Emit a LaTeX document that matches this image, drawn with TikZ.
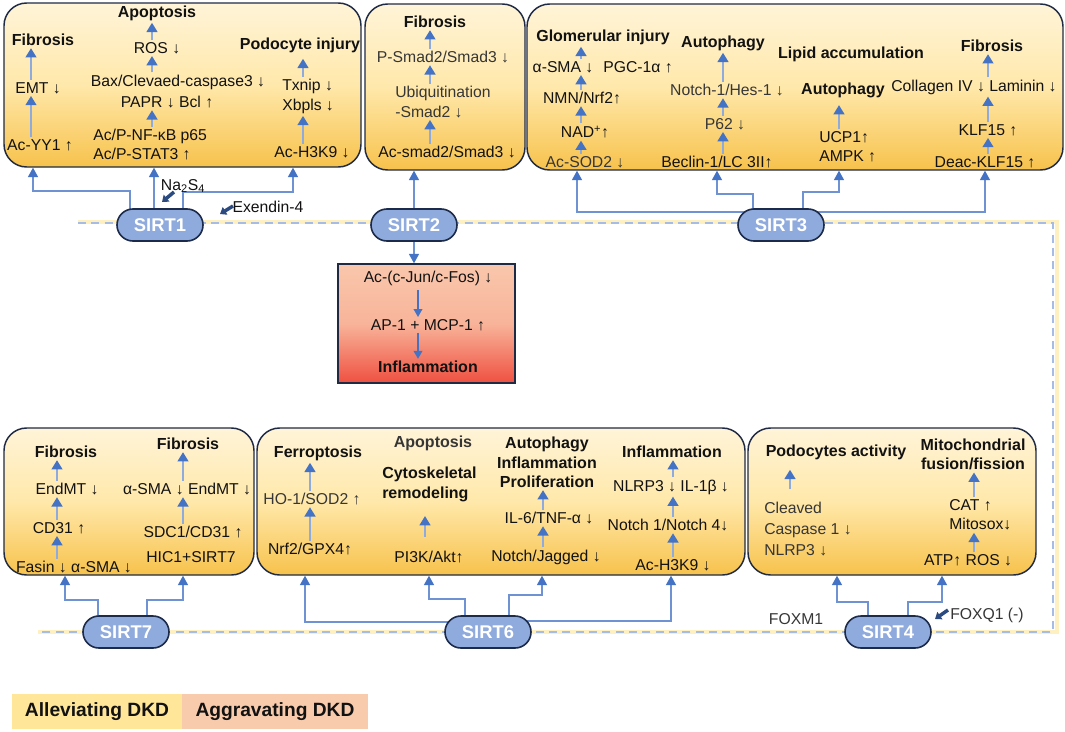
\documentclass[tikz,border=0pt]{standalone}
\usepackage{fontspec}
\setmainfont{Liberation Sans}
\usetikzlibrary{arrows.meta,calc,fit}
\definecolor{boxline}{HTML}{1F2A44}
\definecolor{by1}{HTML}{FFF4D8}
\definecolor{by2}{HTML}{FFE8AA}
\definecolor{by3}{HTML}{F7C24C}
\definecolor{rb1}{HTML}{F9C7AC}
\definecolor{rb2}{HTML}{F8B49A}
\definecolor{rb3}{HTML}{EF5040}
\definecolor{txt}{HTML}{121212}
\definecolor{txtg}{HTML}{363636}
\definecolor{shaft}{HTML}{8FAADC}
\definecolor{headb}{HTML}{4472C4}
\definecolor{connb}{HTML}{6F92D2}
\definecolor{pillfill}{HTML}{8FAADC}
\definecolor{pillline}{HTML}{1C2B4A}
\definecolor{navyarr}{HTML}{2B4A80}
\definecolor{bandy}{HTML}{FFF0C2}
\definecolor{dashb}{HTML}{A7BCE4}
\definecolor{legy}{HTML}{FFE699}
\definecolor{legp}{HTML}{F8CBAD}
\tikzset{
  tx/.style={font=\fontsize{11.8pt}{14.6pt}\selectfont, text=txt, inner sep=1.5pt, align=center},
  tg/.style={tx, text=txtg},
  hd/.style={font=\fontsize{12pt}{14.6pt}\selectfont\bfseries, text=txt, inner sep=1.5pt, align=center},
  ybox/.style={draw=boxline, line width=1.1pt, rounded corners=17pt, top color=by1, bottom color=by3, middle color=by2, inner sep=0pt},
  rbox/.style={draw=boxline, line width=1.1pt, top color=rb1, bottom color=rb3, middle color=rb2, inner sep=0pt},
  pill/.style={rectangle, rounded corners=12pt, minimum width=64.5pt, minimum height=24pt, fill=pillfill, draw=pillline, line width=1.2pt, text=white, font=\fontsize{13.8pt}{16pt}\selectfont\bfseries, inner sep=0pt},
  inarr/.style={draw=shaft, line width=1.8pt, -{Triangle[length=7pt,width=8pt,color=headb]}},
  rarr/.style={draw=headb, line width=1.2pt, -{Triangle[length=6pt,width=6.5pt,color=headb]}},
  oarr/.style={draw=connb, line width=0.9pt, -{Triangle[length=7pt,width=7.5pt,color=headb]}},
  fatarr/.style={draw=navyarr, line width=2.6pt, -{Triangle[length=4.5pt,width=6.5pt]}},
  legbox/.style={inner sep=0pt, minimum height=26.25pt, font=\fontsize{14.4pt}{16pt}\selectfont\bfseries, text=txt},
}
\newcommand\varr[4][]{\draw[inarr,#1] (perpendicular cs: horizontal line through={(#2.north)}, vertical line through={(#4,0)}) -- (perpendicular cs: horizontal line through={(#3.south)}, vertical line through={(#4,0)});}
\newcommand\darr[4][]{\draw[rarr,#1] (perpendicular cs: horizontal line through={(#2.south)}, vertical line through={(#4,0)}) -- (perpendicular cs: horizontal line through={(#3.north)}, vertical line through={(#4,0)});}
\newcommand\oconn[3]{\draw[oarr] #1 -| (perpendicular cs: horizontal line through={(#2.south)}, vertical line through={(#3,0)});}
\begin{document}
\begin{tikzpicture}[x=0.75pt,y=-0.75pt]
\useasboundingbox (0,0) rectangle (1065,732);
\fill[white] (0,0) rectangle (1065,732);

% ---------- boxes ----------
\node[ybox, fit={(4,3) (361,167)}] (B1) {};
\node[ybox, fit={(365,4) (525,170)}] (B2) {};
\node[ybox, fit={(527,4) (1063,170)}] (B3) {};
\node[ybox, fit={(4,428) (254,575)}] (B7) {};
\node[ybox, fit={(257,428) (745,575)}] (B6) {};
\node[ybox, fit={(748,428) (1036,575)}] (B4) {};
\node[rbox, fit={(338,264) (515,383)}] (R) {};

% ---------- dashed frame ----------
\draw[bandy, line width=3pt] (78,222) -- (1057,222) -- (1057,632) -- (38,632);
\draw[dashb, line width=1.1pt, dash pattern=on 6pt off 4pt] (78,223) -- (1053,223) -- (1053,632) -- (38,632);

% ---------- SIRT1 box ----------
\node[hd] (apo1) at (157,13) {Apoptosis};
\node[hd] (fib1) at (43,40) {Fibrosis};
\node[hd] (pod1) at (300,45) {Podocyte injury};
\node[tx] (ros1) at (157,48) {ROS ↓};
\node[tx] (bax1) at (178,82) {Bax/Clevaed-caspase3 ↓};
\node[tx] (papr1) at (167,102) {PAPR ↓ Bcl ↑};
\node[tx, align=left, anchor=west] (nfkb1) at (91,144.5) {Ac/P-NF-κB p65\\Ac/P-STAT3 ↑};
\node[tx] (emt1) at (38,88) {EMT ↓};
\node[tx] (yy1) at (40,145) {Ac-YY1 ↑};
\node[tx, align=left, anchor=west] (txn1) at (280,96.5) {Txnip ↓\\Xbpls ↓};
\node[tx] (h3k1) at (312,152) {Ac-H3K9 ↓};
\varr{ros1}{apo1}{152}
\varr{bax1}{ros1}{152}
\varr{nfkb1}{papr1}{152}
\varr{emt1}{fib1}{31}
\varr{yy1}{emt1}{31}
\varr[shorten >=3pt]{txn1}{pod1}{303}
\varr{h3k1}{txn1}{303}

% ---------- SIRT2 box ----------
\node[hd] (fib2) at (435,22) {Fibrosis};
\node[tg] (psm2) at (443,57) {P-Smad2/Smad3 ↓};
\node[tg, align=left, anchor=west] (ubq2) at (393,102) {Ubiquitination\\-Smad2 ↓};
\node[tx] (acs2) at (447,152) {Ac-smad2/Smad3 ↓};
\varr{psm2}{fib2}{430}
\varr{ubq2}{psm2}{430}
\varr{acs2}{ubq2}{430}

% ---------- SIRT3 box ----------
\node[hd] (glo3) at (603,37) {Glomerular injury};
\node[tx] (asma3) at (563,67) {α-SMA ↓};
\node[tx] (pgc3) at (638,67) {PGC-1α ↑};
\node[tx] (nmn3) at (582,98) {NMN/Nrf2↑};
\node[tx] (nad3) at (585,132) {NAD\textsuperscript{+}↑};
\node[tg] (sod3) at (585,162) {Ac-SOD2 ↓};
\varr{asma3}{glo3}{581}
\varr{nmn3}{asma3}{581}
\varr{nad3}{nmn3}{581}
\varr{sod3}{nad3}{581}
\node[hd] (aut3) at (723,43) {Autophagy};
\node[tg] (notch3) at (727,90) {Notch-1/Hes-1 ↓};
\node[tg] (p62) at (725,124) {P62 ↓};
\node[tx] (bec3) at (717,162) {Beclin-1/LC 3II↑};
\varr{notch3}{aut3}{723}
\varr{p62}{notch3}{723}
\varr{bec3}{p62}{723}
\node[hd] (lip3) at (851,54) {Lipid accumulation};
\node[hd] (aut3b) at (843,90) {Autophagy};
\node[tx, align=left, anchor=west] (ucp3) at (817,147) {UCP1↑\\AMPK ↑};
\varr[shorten >=4pt]{ucp3}{aut3b}{839}
\node[hd] (fib3) at (992,46) {Fibrosis};
\node[tx] (col3) at (974,87) {Collagen IV ↓ Laminin ↓};
\node[tx] (klf3) at (988,130) {KLF15 ↑};
\node[tx] (deac3) at (985,162) {Deac-KLF15 ↑};
\varr{col3}{fib3}{988}
\varr{klf3}{col3}{988}
\varr{deac3}{klf3}{988}

% ---------- red box ----------
\node[tx] (acj) at (428,278) {Ac-(c-Jun/c-Fos) ↓};
\node[tx] (ap1) at (428,325) {AP-1 + MCP-1 ↑};
\node[hd] (infr) at (428,367) {Inflammation};
\darr[shorten <=2pt]{acj}{ap1}{418}
\darr{ap1}{infr}{418}

% ---------- SIRT7 box ----------
\node[hd] (fib7a) at (66,452) {Fibrosis};
\node[tx] (endmt7) at (67,489) {EndMT ↓};
\node[tx] (cd31) at (59,528) {CD31 ↑};
\node[tx] (fasin) at (74,567) {Fasin ↓ α-SMA ↓};
\varr{endmt7}{fib7a}{57}
\varr{cd31}{endmt7}{57}
\varr{fasin}{cd31}{57}
\node[hd] (fib7b) at (188,444) {Fibrosis};
\node[tx] (asma7) at (187,489) {α-SMA ↓ EndMT ↓};
\node[tx] (sdc1) at (193,532) {SDC1/CD31 ↑};
\node[tx] (hic1) at (191,557) {HIC1+SIRT7};
\varr{asma7}{fib7b}{183}
\varr{sdc1}{asma7}{183}

% ---------- SIRT6 box ----------
\node[hd] (fer6) at (318,453) {Ferroptosis};
\node[tg] (ho6) at (312,499) {HO-1/SOD2 ↑};
\node[tx] (nrf6) at (310,549) {Nrf2/GPX4↑};
\varr{ho6}{fer6}{310}
\varr{nrf6}{ho6}{310}
\node[hd, text=txtg] (apo6) at (433,443) {Apoptosis};
\node[hd, align=left, anchor=west] (cyto6) at (380,484.5) {Cytoskeletal\\remodeling};
\node[tx] (pi3k) at (429,557) {PI3K/Akt↑};
\varr[shorten <=9pt, shorten >=9pt]{pi3k}{cyto6}{425}
\node[hd] (aut6) at (547,462.5) {Autophagy\\Inflammation\\Proliferation};
\node[tx] (il6) at (549,518) {IL-6/TNF-α ↓};
\node[tx] (notchj) at (546,557) {Notch/Jagged ↓};
\varr{il6}{aut6}{543}
\varr{notchj}{il6}{543}
\node[hd] (inf6) at (672,452) {Inflammation};
\node[tx] (nlrp6) at (671,487) {NLRP3 ↓ IL-1β ↓};
\node[tx] (notch6) at (668,525) {Notch 1/Notch 4↓};
\node[tx] (h3k6) at (673,565) {Ac-H3K9 ↓};
\varr{nlrp6}{inf6}{673}
\varr{notch6}{nlrp6}{673}
\varr{h3k6}{notch6}{673}

% ---------- SIRT4 box ----------
\node[hd] (pod4) at (836,452) {Podocytes activity};
\node[tg, align=left, anchor=west, font=\fontsize{11.8pt}{15.5pt}\selectfont] (clv4) at (762,529) {Cleaved\\Caspase 1 ↓\\NLRP3 ↓};
\varr[shorten <=8pt, shorten >=6pt]{clv4}{pod4}{790}
\node[hd] (mit4) at (973,454.5) {Mitochondrial\\fusion/fission};
\node[tx, align=left, anchor=west] (cat4) at (947,515) {CAT ↑\\Mitosox↓};
\node[tx] (atp4) at (968,560) {ATP↑ ROS ↓};
\varr{cat4}{mit4}{974}
\varr{atp4}{cat4}{974}

% ---------- pill positions ----------
\coordinate (p1) at (160,225);
\coordinate (p2) at (414,225);
\coordinate (p3) at (781,225);
\coordinate (p7) at (126,632);
\coordinate (p6) at (488,632);
\coordinate (p4) at (888,632);

% ---------- connectors ----------
\oconn{($(p1)+(-30,0)$) -- ++(0,-34)}{B1}{33}
\oconn{($(p1)+(-6,0)$)}{B1}{154}
\oconn{($(p1)+(23,0)$) -- ++(0,-33)}{B1}{293}
\oconn{(p2)}{B2}{414}
\draw[oarr] (p2) -- (R.north -| p2);
\oconn{($(p3)+(-20,-13)$)}{B3}{577}
\oconn{($(p3)+(-28,0)$) -- ++(0,-31)}{B3}{717}
\oconn{($(p3)+(22,0)$) -- ++(0,-33)}{B3}{839}
\oconn{($(p3)+(20,-13)$)}{B3}{985}
\oconn{($(p7)+(-28,0)$) -- ++(0,-32)}{B7}{65}
\oconn{($(p7)+(21,0)$) -- ++(0,-32)}{B7}{183}
\oconn{($(p6)+(-10,-10)$)}{B6}{305}
\oconn{($(p6)+(-23,0)$) -- ++(0,-33)}{B6}{429}
\oconn{($(p6)+(21,0)$) -- ++(0,-37)}{B6}{542}
\oconn{($(p6)+(10,-11)$)}{B6}{671}
\oconn{($(p4)+(-20,0)$) -- ++(0,-30)}{B4}{837}
\oconn{($(p4)+(20,0)$) -- ++(0,-30)}{B4}{942}

% ---------- pills ----------
\node[pill] (S1) at (p1) {SIRT1};
\node[pill] (S2) at (p2) {SIRT2};
\node[pill] (S3) at (p3) {SIRT3};
\node[pill] (S7) at (p7) {SIRT7};
\node[pill] (S6) at (p6) {SIRT6};
\node[pill] (S4) at (p4) {SIRT4};

% ---------- modulators ----------
\node[tx] (na2s4) at (183,186) {Na\textsubscript{2}S\textsubscript{4}};
\coordinate (na0) at (174,192);
\coordinate (na1) at (162,202);
\draw[fatarr] (na0) -- (na1);
\node[tx] (exd) at (268,207) {Exendin-4};
\coordinate (ex0) at (233,206);
\coordinate (ex1) at (220,214);
\draw[fatarr] (ex0) -- (ex1);
\node[tg] (foxm1) at (796,619) {FOXM1};
\node[tg] (foxq1) at (987,615) {FOXQ1 (-)};
\coordinate (fq0) at (948,610);
\coordinate (fq1) at (935,619);
\draw[fatarr] (fq0) -- (fq1);

% ---------- legend ----------
\node[legbox, fill=legy, minimum width=127.5pt] (L1) at (97,711.5) {Alleviating DKD};
\node[legbox, fill=legp, minimum width=139.5pt] (L2) at (275,711.5) {Aggravating DKD};
\end{tikzpicture}
\end{document}
